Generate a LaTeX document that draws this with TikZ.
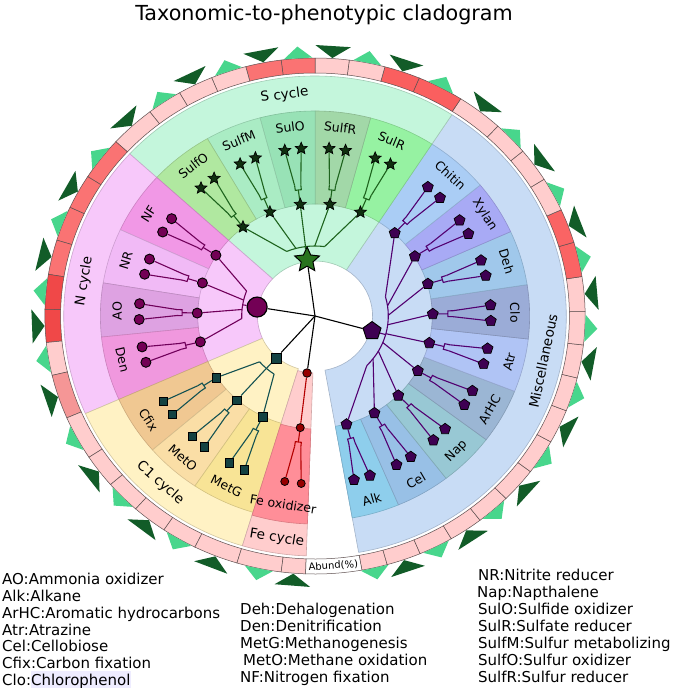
\documentclass[tikz,border=0pt]{standalone}
\usepackage{fontspec}
\setmainfont{DejaVu Sans}
\usetikzlibrary{shapes.geometric}
\pgfdeclarelayer{paper}
\pgfdeclarelayer{bg}
\pgfdeclarelayer{lines}
\pgfsetlayers{paper,bg,lines,main}
% group backgrounds
\definecolor{Sbg}{RGB}{196,246,220}
\definecolor{Nbg}{RGB}{247,200,250}
\definecolor{Cbg}{RGB}{255,242,196}
\definecolor{Fbg}{RGB}{255,205,205}
\definecolor{Mbg}{RGB}{200,220,245}
% subgroup bands
\definecolor{cSulfO}{RGB}{176,232,160}
\definecolor{cSulfM}{RGB}{170,236,196}
\definecolor{cSulO}{RGB}{152,226,182}
\definecolor{cSulfR}{RGB}{162,216,168}
\definecolor{cSulR}{RGB}{150,242,162}
\definecolor{cNF}{RGB}{241,152,230}
\definecolor{cNR}{RGB}{241,186,246}
\definecolor{cAO}{RGB}{222,162,226}
\definecolor{cDen}{RGB}{240,152,222}
\definecolor{cCfix}{RGB}{240,200,146}
\definecolor{cMetO}{RGB}{250,222,166}
\definecolor{cMetG}{RGB}{248,228,150}
\definecolor{cFeOx}{RGB}{255,142,152}
\definecolor{cChitin}{RGB}{170,205,245}
\definecolor{cXylan}{RGB}{168,170,245}
\definecolor{cDeh}{RGB}{160,200,235}
\definecolor{cClo}{RGB}{155,172,215}
\definecolor{cAtr}{RGB}{176,196,245}
\definecolor{cArHC}{RGB}{155,182,212}
\definecolor{cNap}{RGB}{152,200,212}
\definecolor{cCel}{RGB}{152,192,230}
\definecolor{cAlk}{RGB}{142,206,236}
% tree colours
\definecolor{Sline}{RGB}{30,100,30}
\definecolor{Snode}{RGB}{16,48,16}
\definecolor{Sroot}{RGB}{40,115,30}
\definecolor{Nline}{RGB}{112,0,90}
\definecolor{Nnode}{RGB}{115,0,85}
\definecolor{Cline}{RGB}{20,82,82}
\definecolor{Cnode}{RGB}{20,66,66}
\definecolor{Fline}{RGB}{180,0,0}
\definecolor{Fnode}{RGB}{150,0,0}
\definecolor{Mline}{RGB}{82,0,112}
\definecolor{Mnode}{RGB}{62,0,82}
% ring
\definecolor{ringL}{RGB}{255,205,205}
\definecolor{ringR}{RGB}{250,100,100}
\definecolor{ringR2}{RGB}{250,95,95}
\definecolor{ringR3}{RGB}{250,115,115}
\definecolor{ringR4}{RGB}{240,72,72}
\definecolor{ringM}{RGB}{245,150,150}
\definecolor{ringEdge}{RGB}{95,80,80}
\definecolor{triLc}{RGB}{72,214,140}
\definecolor{triDc}{RGB}{18,92,40}
\definecolor{hilite}{RGB}{238,236,255}

\tikzset{
  br/.style={draw=#1, line width=1.1pt},
  grp/.style={fill=#1, draw=#1!82!black, line width=0.6pt},
  sub/.style={fill=#1, draw=#1!85!black, line width=0.6pt},
  cellst/.style={fill=#1, draw=ringEdge, line width=0.5pt},
  nleaf/.style={circle, draw=black, fill=Nnode, line width=0.9pt, minimum size=10pt, inner sep=0pt},
  sleaf/.style={star, star points=5, star point ratio=2.2, draw=black, fill=Snode, line width=0.7pt, minimum size=12.5pt, inner sep=0pt},
  mleaf/.style={regular polygon, regular polygon sides=5, draw=black, fill=Mnode, line width=0.7pt, minimum size=11.5pt, inner sep=0pt},
  cleaf/.style={rectangle, draw=black, fill=Cnode, line width=0.7pt, minimum size=8.5pt, inner sep=0pt},
  fleaf/.style={circle, draw=black, fill=Fnode, line width=0.8pt, minimum size=8pt, inner sep=0pt},
  sublab/.style={font=\fontsize{12.5}{14}\selectfont, inner sep=0pt},
  grplab/.style={font=\fontsize{13.6}{16}\selectfont, inner sep=0pt},
  legtext/.style={font=\fontsize{15}{17}\selectfont, anchor=base west, inner sep=0pt},
}

% annular sector
\newcommand\band[5]{\path[#1] (#2:#4) arc[start angle=#2, end angle=#3, radius=#4] -- (#3:#5) arc[start angle=#3, end angle=#2, radius=#5] -- cycle;}
% triangles outside the ring
\newcommand\triL[1]{\pgfmathsetmacro\ta{#1-3.0}\pgfmathsetmacro\tb{#1+3.0}\fill[triLc] (\ta:258.5) -- (\tb:258.5) -- (#1:270) -- cycle;}
\newcommand\triD[1]{\pgfmathsetmacro\ta{#1-3.6}\pgfmathsetmacro\tb{#1+3.6}\fill[triDc] (\ta:271) -- (\tb:271) -- (#1:258.5) -- cycle;}
% two ring cells of a subclade
\newcommand\cellpair[5]{%
  \band{cellst=#4}{#1}{#2}{243}{258}
  \band{cellst=#5}{#2}{#3}{243}{258}
  \pgfmathsetmacro\ca{(#1+#2)/2}\pgfmathsetmacro\cb{(#2+#3)/2}
  \triL{\ca}\triD{\cb}}
% subclade node, two leaves and bracket
\newcommand\leafpair[4]{%
  \pgfmathsetmacro\la{#2-2.7}\pgfmathsetmacro\lb{#2+2.7}%
  \pgfmathsetmacro\ba{#2-1.3}\pgfmathsetmacro\bb{#2+1.3}%
  \node[#3] (#1) at (#2:112.5) {};
  \node[#3] (#1a) at (\la:168) {};
  \node[#3] (#1b) at (\lb:168) {};
  \coordinate (#1m) at (#2:127);
  \coordinate (#1p) at (\ba:127);
  \coordinate (#1q) at (\bb:127);
  \coordinate (#1s) at (\ba:132);
  \coordinate (#1t) at (\bb:132);
  \begin{pgfonlayer}{lines}
    \draw[br=#4] (#1) -- (#1m);
    \draw[br=#4] (#1s) -- (#1p) arc[start angle=\ba, end angle=\bb, radius=127] -- (#1t);
    \draw[br=#4] (#1s) -- (#1a);
    \draw[br=#4] (#1t) -- (#1b);
  \end{pgfonlayer}}
% link from a group bracket to a subclade node
\newcommand\glink[5]{%
  \pgfmathsetmacro\ga{#2+0.5*(#4-#2)}%
  \coordinate (#3g) at (\ga:70);
  \begin{pgfonlayer}{lines}\draw[br=#5] (#3g) -- (#3);\end{pgfonlayer}}
% radial-tangential label
\newcommand\rlabel[5]{%
  \pgfmathsetmacro\rr{mod(#2,360)}%
  \pgfmathsetmacro\rot{\rr>=180 ? \rr+90 : \rr-90}%
  \node[#5, rotate=\rot] (#1) at (#2:#3) {#4};}

\begin{document}
\begin{tikzpicture}[x=1pt, y=1pt]
\useasboundingbox (0,0) rectangle (675,-688);
\begin{pgfonlayer}{paper}
\fill[white] (0,0) rectangle (675,-688);
\end{pgfonlayer}

\node[font=\fontsize{20.7}{24}\selectfont, inner sep=0pt] (title) at (324,-15) {Taxonomic-to-phenotypic cladogram};

\begin{scope}[shift={(315,-316)}, x=1.047pt, y=1pt]
  \begin{pgfonlayer}{bg}
  % group backgrounds
  \band{grp=Mbg}{280}{417}{55}{240}
  \band{grp=Sbg}{57}{137.5}{55}{240}
  \band{grp=Nbg}{137.5}{204}{55}{240}
  \band{grp=Cbg}{204}{253.2}{55}{240}
  \band{grp=Fbg}{253.2}{268}{57}{240}
  % subclade bands
  \band{sub=cAlk}{280}{292.9}{112}{205}
  \band{sub=cCel}{292.9}{307.65}{112}{205}
  \band{sub=cNap}{307.65}{322.9}{112}{205}
  \band{sub=cArHC}{322.9}{338.45}{112}{205}
  \band{sub=cAtr}{338.45}{353.55}{112}{205}
  \band{sub=cClo}{353.55}{368.8}{112}{205}
  \band{sub=cDeh}{368.8}{384.3}{112}{205}
  \band{sub=cXylan}{384.3}{399.7}{112}{205}
  \band{sub=cChitin}{399.7}{417}{112}{205}
  \band{sub=cSulR}{57}{75}{112}{205}
  \band{sub=cSulfR}{75}{89.95}{112}{205}
  \band{sub=cSulO}{89.95}{104.85}{112}{205}
  \band{sub=cSulfM}{104.85}{120.1}{112}{205}
  \band{sub=cSulfO}{120.1}{137.5}{112}{205}
  \band{sub=cNF}{137.5}{155.1}{112}{205}
  \band{sub=cNR}{155.1}{170.7}{112}{205}
  \band{sub=cAO}{170.7}{185.9}{112}{205}
  \band{sub=cDen}{185.9}{204}{112}{205}
  \band{sub=cCfix}{204}{220.8}{112}{205}
  \band{sub=cMetO}{220.8}{236}{112}{205}
  \band{sub=cMetG}{236}{253.2}{112}{205}
  \band{sub=cFeOx}{253.2}{268}{113}{208}
  % abundance ring
  \cellpair{280}{285.5}{292.9}{ringL}{ringL}
  \cellpair{292.9}{300.3}{307.65}{ringL}{ringL}
  \cellpair{307.65}{315}{322.9}{ringL}{ringL}
  \cellpair{322.9}{330.8}{338.45}{ringL}{ringL}
  \cellpair{338.45}{346.1}{353.55}{ringL}{ringL}
  \cellpair{353.55}{361}{368.8}{ringL}{ringL}
  \cellpair{368.8}{376.6}{384.3}{ringR}{ringR}
  \cellpair{384.3}{392}{399.7}{ringL}{ringL}
  \cellpair{399.7}{407.4}{417.35}{ringL}{ringL}
  \cellpair{417.35}{427.3}{435}{ringR2}{ringR2}
  \cellpair{75}{82.7}{89.95}{ringL}{ringL}
  \cellpair{89.95}{97.2}{104.85}{ringR3}{ringR3}
  \cellpair{104.85}{112.5}{120.1}{ringL}{ringL}
  \cellpair{120.1}{127.7}{137.5}{ringL}{ringL}
  \cellpair{137.5}{147.3}{155.1}{ringR3}{ringR3}
  \cellpair{155.1}{162.9}{170.7}{ringR3}{ringR3}
  \cellpair{170.7}{178.5}{185.9}{ringR4}{ringR4}
  \cellpair{185.9}{193.3}{203.25}{ringL}{ringM}
  \cellpair{203.25}{213.2}{220.8}{ringL}{ringL}
  \cellpair{220.8}{228.4}{236}{ringL}{ringL}
  \cellpair{236}{243.6}{253.2}{ringL}{ringL}
  \cellpair{253.2}{262.8}{268}{ringL}{ringL}
  \band{cellst=white}{268}{280}{243}{258}
  \end{pgfonlayer}
  \node[font=\fontsize{10}{12}\selectfont, inner sep=0pt, rotate=4] (abund) at (274:250.5) {Abund(\%)};

  % root and group nodes
  \coordinate (root) at (0,0);
  \node[star, star points=5, star point ratio=2.1, draw=black, fill=Sroot, line width=1pt, minimum size=26pt, inner sep=0pt] (gS) at (97.7:56.5) {};
  \node[circle, draw=black, fill=Nnode, line width=1.2pt, minimum size=20pt, inner sep=0pt] (gN) at (170.8:56) {};
  \node[rectangle, draw=black, fill=Cnode, line width=0.8pt, minimum size=10pt, inner sep=0pt] (gC) at (228.5:56) {};
  \node[regular polygon, regular polygon sides=5, draw=black, fill=Mnode, line width=0.9pt, minimum size=19pt, inner sep=0pt] (gM) at (344.6:56.5) {};
  \node[circle, draw=black, fill=Fnode, line width=0.8pt, minimum size=8.5pt, inner sep=0pt] (gF) at (262.4:57.5) {};
  \begin{pgfonlayer}{lines}
    \draw[br=black] (root) -- (gS);
    \draw[br=black] (root) -- (gN);
    \draw[br=black] (root) -- (gC);
    \draw[br=black] (root) -- (gM);
    \draw[br=black] (root) -- (gF);
  \end{pgfonlayer}

  % subclades
  \leafpair{Alk}{285.5}{mleaf}{Mline}
  \leafpair{Cel}{300.3}{mleaf}{Mline}
  \leafpair{Nap}{315}{mleaf}{Mline}
  \leafpair{ArHC}{330.8}{mleaf}{Mline}
  \leafpair{Atr}{346.1}{mleaf}{Mline}
  \leafpair{Clo}{361}{mleaf}{Mline}
  \leafpair{Deh}{376.6}{mleaf}{Mline}
  \leafpair{Xylan}{392}{mleaf}{Mline}
  \leafpair{Chitin}{407.4}{mleaf}{Mline}
  \leafpair{SulR}{67.3}{sleaf}{Sline}
  \leafpair{SulfR}{82.7}{sleaf}{Sline}
  \leafpair{SulO}{97.2}{sleaf}{Sline}
  \leafpair{SulfM}{112.5}{sleaf}{Sline}
  \leafpair{SulfO}{127.7}{sleaf}{Sline}
  \leafpair{NF}{147.3}{nleaf}{Nline}
  \leafpair{NR}{162.9}{nleaf}{Nline}
  \leafpair{AO}{178.5}{nleaf}{Nline}
  \leafpair{Den}{193.3}{nleaf}{Nline}
  \leafpair{Cfix}{213.2}{cleaf}{Cline}
  \leafpair{MetO}{228.4}{cleaf}{Cline}
  \leafpair{MetG}{243.6}{cleaf}{Cline}
  \leafpair{FeOx}{262.8}{fleaf}{Fline}

  % group brackets
  \coordinate (gSm) at (97.7:70);
  \coordinate (gNm) at (170.8:70);
  \coordinate (gCm) at (228.5:70);
  \coordinate (gMm) at (344.6:70);
  \begin{pgfonlayer}{lines}
    \draw[br=Sline] (gS) -- (gSm);
    \draw[br=Sline] (82.5:70) arc[start angle=82.5, end angle=112.7, radius=70];
    \draw[br=Nline] (gN) -- (gNm);
    \draw[br=Nline] (159.05:70) arc[start angle=159.05, end angle=182.05, radius=70];
    \draw[br=Cline] (gC) -- (gCm);
    \draw[br=Cline] (220.85:70) arc[start angle=220.85, end angle=236.05, radius=70];
    \draw[br=Mline] (gM) -- (gMm);
    \draw[br=Mline] (315.05:70) arc[start angle=315.05, end angle=376, radius=70];
    \draw[br=Fline] (gF) -- (FeOx);
  \end{pgfonlayer}
  \glink{gS}{97.7}{SulR}{67.3}{Sline}
  \glink{gS}{97.7}{SulfR}{82.7}{Sline}
  \glink{gS}{97.7}{SulO}{97.2}{Sline}
  \glink{gS}{97.7}{SulfM}{112.5}{Sline}
  \glink{gS}{97.7}{SulfO}{127.7}{Sline}
  \glink{gN}{170.8}{NF}{147.3}{Nline}
  \glink{gN}{170.8}{NR}{162.9}{Nline}
  \glink{gN}{170.8}{AO}{178.5}{Nline}
  \glink{gN}{170.8}{Den}{193.3}{Nline}
  \glink{gC}{228.5}{Cfix}{213.2}{Cline}
  \glink{gC}{228.5}{MetO}{228.4}{Cline}
  \glink{gC}{228.5}{MetG}{243.6}{Cline}
  \glink{gM}{344.6}{Alk}{285.5}{Mline}
  \glink{gM}{344.6}{Cel}{300.3}{Mline}
  \glink{gM}{344.6}{Nap}{315}{Mline}
  \glink{gM}{344.6}{ArHC}{330.8}{Mline}
  \glink{gM}{344.6}{Atr}{346.1}{Mline}
  \glink{gM}{344.6}{Clo}{361}{Mline}
  \glink{gM}{344.6}{Deh}{376.6}{Mline}
  \glink{gM}{344.6}{Xylan}{392}{Mline}
  \glink{gM}{344.6}{Chitin}{407.4}{Mline}

  % labels
  \rlabel{lAlk}{286.5}{191}{Alk}{sublab}
  \rlabel{lCel}{300.3}{191}{Cel}{sublab}
  \rlabel{lNap}{315}{191}{Nap}{sublab}
  \rlabel{lArHC}{330.8}{191}{ArHC}{sublab}
  \rlabel{lAtr}{346.1}{191}{Atr}{sublab}
  \rlabel{lClo}{361}{191}{Clo}{sublab}
  \rlabel{lDeh}{376.6}{191}{Deh}{sublab}
  \rlabel{lXylan}{392}{191}{Xylan}{sublab}
  \rlabel{lChitin}{407.4}{191}{Chitin}{sublab}
  \rlabel{lSulR}{67.3}{190}{SulR}{sublab}
  \rlabel{lSulfR}{82.7}{190}{SulfR}{sublab}
  \rlabel{lSulO}{97.2}{190}{SulO}{sublab}
  \rlabel{lSulfM}{112.5}{190}{SulfM}{sublab}
  \rlabel{lSulfO}{127.7}{190}{SulfO}{sublab}
  \rlabel{lNF}{147.3}{189}{NF}{sublab}
  \rlabel{lNR}{162.9}{189}{NR}{sublab}
  \rlabel{lAO}{178.5}{189}{AO}{sublab}
  \rlabel{lDen}{193.3}{189}{Den}{sublab}
  \rlabel{lCfix}{213.2}{190}{Cfix}{sublab}
  \rlabel{lMetO}{228.4}{190}{MetO}{sublab}
  \rlabel{lMetG}{243.6}{190}{MetG}{sublab}
  \rlabel{lFeOx}{260.8}{190.5}{Fe oxidizer}{sublab}
  \rlabel{lS}{97.5}{223}{S cycle}{grplab}
  \rlabel{lN}{171}{223}{N cycle}{grplab}
  \rlabel{lC}{228.5}{223}{C1 cycle}{grplab}
  \rlabel{lF}{260.7}{225}{Fe cycle}{grplab}
  \rlabel{lM}{348.3}{222.5}{Miscellaneous}{grplab}
\end{scope}

% legend
\node[legtext] (k1) at (2,-584) {AO:Ammonia oxidizer};
\node[legtext] (k2) at (2,-601) {Alk:Alkane};
\node[legtext] (k3) at (2,-618) {ArHC:Aromatic hydrocarbons};
\node[legtext] (k4) at (2,-635) {Atr:Atrazine};
\node[legtext] (k5) at (2,-651) {Cel:Cellobiose};
\node[legtext] (k6) at (2,-668) {Cfix:Carbon fixation};
\node[legtext] (k7) at (2,-685) {Clo:\colorbox{hilite}{\kern-3pt Chlorophenol\kern-3pt}};
\node[legtext] (k8) at (240,-614) {Deh:Dehalogenation};
\node[legtext] (k9) at (240,-631) {Den:Denitrification};
\node[legtext] (k10) at (240,-648) {MetG:Methanogenesis};
\node[legtext] (k11) at (243,-665) {MetO:Methane oxidation};
\node[legtext] (k12) at (240,-682) {NF:Nitrogen fixation};
\node[legtext] (k13) at (478,-580) {NR:Nitrite reducer};
\node[legtext] (k14) at (477,-597) {Nap:Napthalene};
\node[legtext] (k15) at (478,-614) {SulO:Sulfide oxidizer};
\node[legtext] (k16) at (478,-631) {SulR:Sulfate reducer};
\node[legtext] (k17) at (478,-648) {SulfM:Sulfur metabolizing};
\node[legtext] (k18) at (478,-665) {SulfO:Sulfur oxidizer};
\node[legtext] (k19) at (478,-682) {SulfR:Sulfur reducer};
\end{tikzpicture}
\end{document}
